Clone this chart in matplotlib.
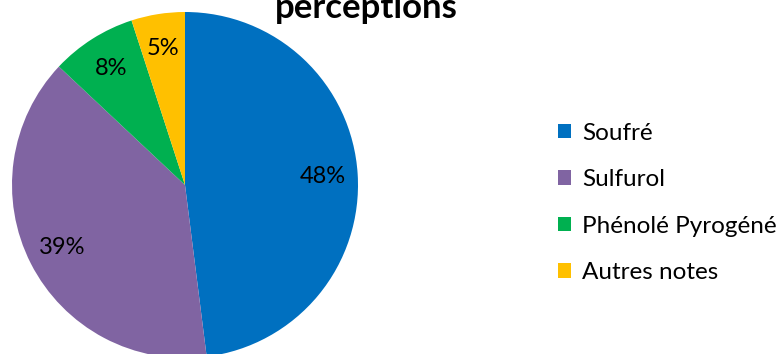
import matplotlib
matplotlib.use("Agg")
import matplotlib.pyplot as plt
from matplotlib.patches import Patch

categories = ["Soufré", "Sulfurol", "Phénolé Pyrogéné", "Autres notes"]
shares = [48, 39, 8, 5]
colors = ["#0070C0", "#8064A2", "#00B050", "#FFC000"]
title = "perceptions"

plt.rcParams["font.family"] = ["Lato", "DejaVu Sans"]

W, H = 779, 354
fig = plt.figure(figsize=(W / 100, H / 100), dpi=100)

# pie axes placed in pixel terms: centre (185, 185 from top), radius 173
cx, cy, r = 185, 185, 173
ax = fig.add_axes([(cx - r) / W, (H - cy - r) / H, 2 * r / W, 2 * r / H])
wedges, texts, autotexts = ax.pie(
    shares,
    colors=colors,
    startangle=90,
    counterclock=False,
    radius=1.0,
    autopct=lambda p: f"{round(p)}%",
    pctdistance=0.8,
    textprops={"fontsize": 17, "color": "black"},
    wedgeprops={"linewidth": 0},
)
ax.set_xlim(-1, 1)
ax.set_ylim(-1, 1)
ax.set_aspect("equal")
ax.axis("off")

fig.text(366 / W, 1 - 18 / H, title, ha="center", va="baseline",
         fontsize=25, fontweight="bold")

handles = [Patch(facecolor=c, edgecolor="none") for c in colors]
fig.legend(handles, categories, loc="center left",
           bbox_to_anchor=(558 / W, 1 - 203 / H), frameon=False,
           fontsize=17.5, handlelength=0.55, handleheight=0.55,
           handletextpad=0.45, labelspacing=1.05, borderaxespad=0,
           borderpad=0)

fig.savefig("out.png", dpi=100)
